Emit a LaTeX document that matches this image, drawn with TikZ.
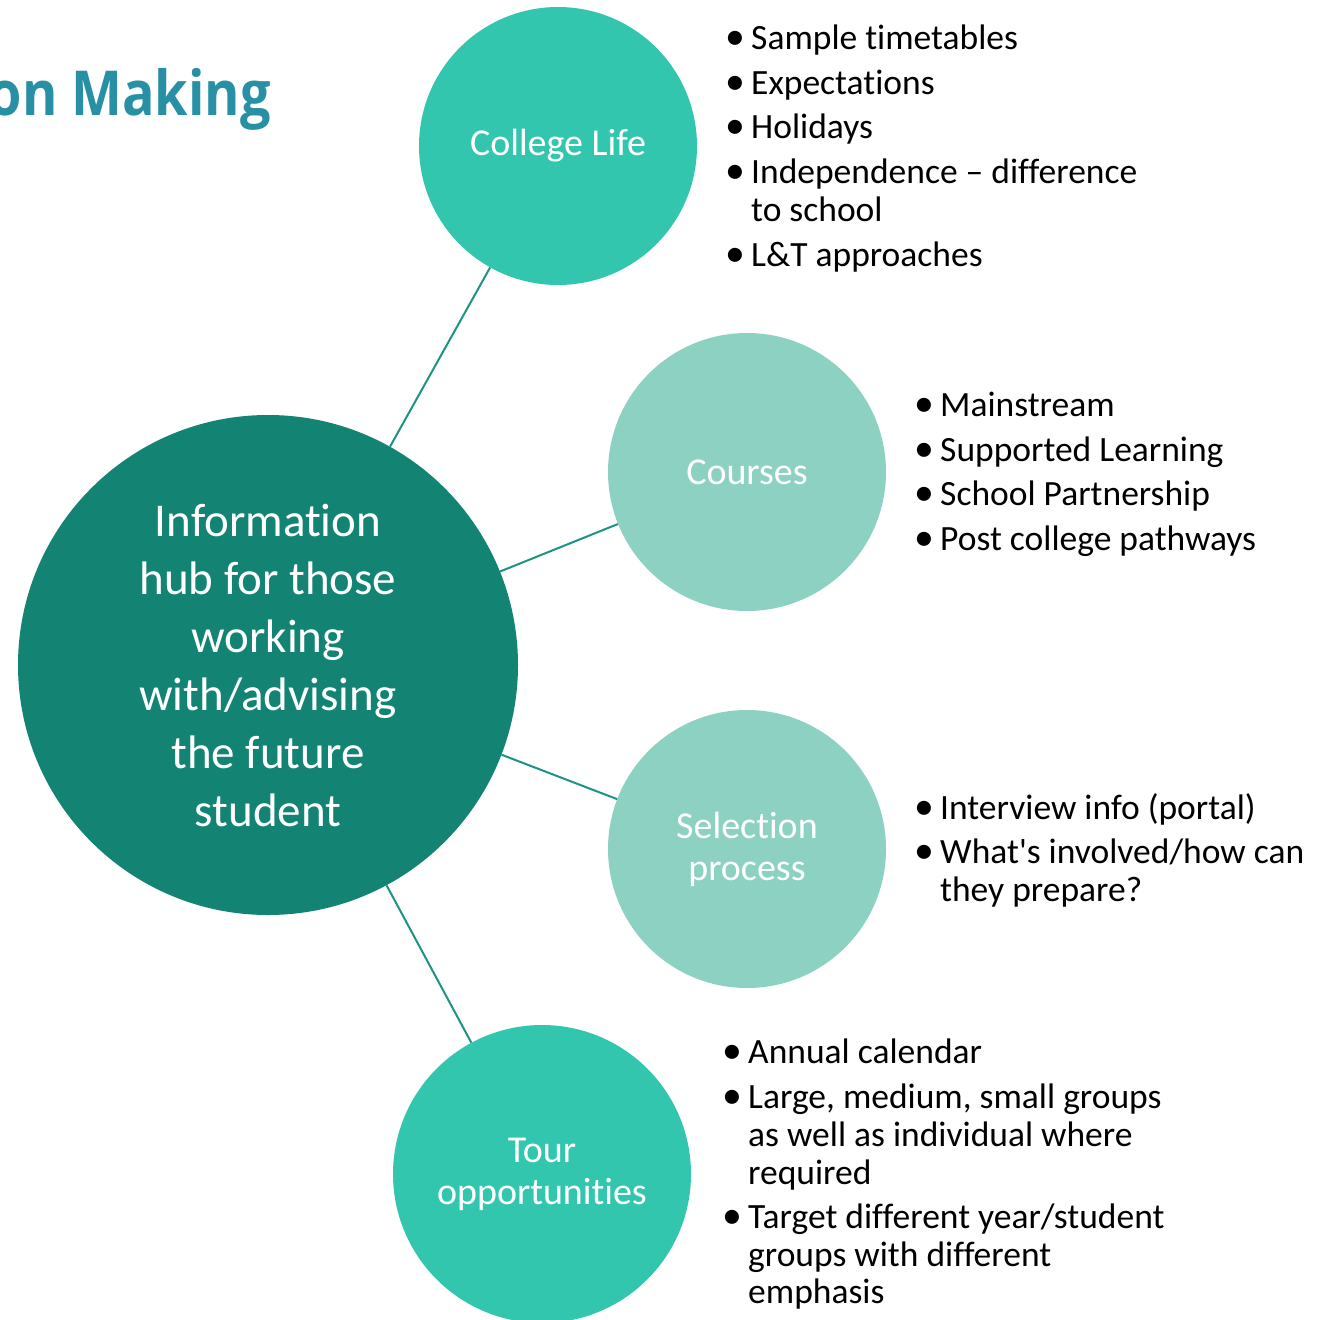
\documentclass[tikz,border=0pt]{standalone}
\usepackage{fontspec}
\setmainfont{Carlito}
\newfontfamily\bodyfont{Carlito}[Ligatures={NoCommon,NoContextual}]
\newfontfamily\titlefont{Open Sans}
\definecolor{hubfill}{HTML}{138474}
\definecolor{brightfill}{HTML}{33C6AF}
\definecolor{palefill}{HTML}{8DD1C3}
\definecolor{linkcol}{HTML}{1E9383}
\definecolor{titlecol}{HTML}{2790A5}
\begin{document}
\begin{tikzpicture}[x=1pt,y=-1pt,
  hub/.style={circle,fill=hubfill,text=white,inner sep=0pt,minimum size=500pt,align=center,font=\bodyfont\fontsize{47}{58}\selectfont},
  topic/.style={circle,inner sep=0pt,minimum size=278pt,text=white,align=center,font=\bodyfont\fontsize{38}{42}\selectfont},
  link/.style={draw=linkcol,line width=2pt},
  item/.style={anchor=base west,inner sep=0pt,font=\bodyfont\fontsize{35.5}{38}\selectfont}]
\useasboundingbox (0,0) rectangle (1319,1320);
\clip (0,0) rectangle (1319,1320);
\newcommand\bul{\makebox[22pt][l]{\hspace*{-4pt}\raisebox{-0.5pt}{\scalebox{1.12}{\textbullet}}}}
% title
\node[anchor=base east,inner sep=0pt,text=titlecol,font=\titlefont\bfseries\fontsize{62}{70}\selectfont] (title) at (271,115) {\scalebox{0.87}[1]{on Making}};
% circles
\node[hub] (hub) at (268,665) {Information\\hub for those\\working\\with/advising\\the future\\student};
\node[topic,fill=brightfill] (life) at (558,146) {College Life};
\node[topic,fill=palefill] (courses) at (747,472) {Courses};
\node[topic,fill=palefill] (select) at (747,849) {Selection\\process};
\node[topic,fill=brightfill,minimum size=298pt] (tour) at (542,1174) {Tour\\opportunities};
% links
\draw[link] (hub) -- (life);
\draw[link] (hub) -- (courses);
\draw[link] (hub) -- (select);
\draw[link] (hub) -- (tour);
% College Life list
\node[item] (l1) at (729,49) {\bul Sample timetables};
\node[item] (l2) at (729,94) {\bul Expectations};
\node[item] (l3) at (729,138) {\bul Holidays};
\node[item] (l4) at (729,183) {\bul Independence – difference};
\node[item] (l4b) at (751,221) {to school};
\node[item] (l5) at (729,266) {\bul L\&T approaches};
% Courses list
\node[item] (c1) at (918,416) {\bul Mainstream};
\node[item] (c2) at (918,461) {\bul Supported Learning};
\node[item] (c3) at (918,505) {\bul School Partnership};
\node[item] (c4) at (918,550) {\bul Post college pathways};
% Selection list
\node[item] (s1) at (918,819) {\bul Interview info (portal)};
\node[item] (s2) at (918,863) {\bul What's involved/how can};
\node[item] (s2b) at (940,901) {they prepare?};
% Tour list
\node[item] (t1) at (726,1063) {\bul Annual calendar};
\node[item] (t2) at (726,1108) {\bul Large, medium, small groups};
\node[item] (t2b) at (748,1146) {as well as individual where};
\node[item] (t2c) at (748,1184) {required};
\node[item] (t3) at (726,1228) {\bul Target different year/student};
\node[item] (t3b) at (748,1266) {groups with different};
\node[item] (t3c) at (748,1303) {emphasis};
\end{tikzpicture}
\end{document}
